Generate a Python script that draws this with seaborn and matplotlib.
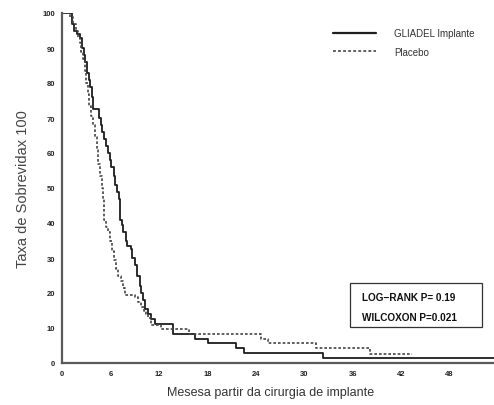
import matplotlib
matplotlib.use("Agg")
import matplotlib.pyplot as plt
import seaborn as sns
import pandas as pd
from matplotlib.patches import Rectangle
from matplotlib.lines import Line2D

# Kaplan-Meier steps (month of change, survival after it)
gliadel_months = [0, 1.2, 1.5, 1.9, 2.2, 2.5, 2.7, 2.9, 3.1, 3.3, 3.5, 3.7, 3.9,
                  4.6, 4.8, 5.0, 5.2, 5.5, 5.7, 5.9, 6.1, 6.4, 6.6, 6.8, 7.1,
                  7.2, 7.4, 7.6, 7.9, 8.1, 8.5, 8.7, 9.0, 9.3, 9.6, 9.8, 10.0,
                  10.3, 10.6, 11.0, 11.5, 13.8, 16.5, 18.1, 21.6, 22.6, 32.3, 54]
gliadel_surv = [100, 97, 95, 94, 93, 90, 88, 86, 83, 81, 79, 76, 72.5,
                70, 68, 66, 64, 62, 60, 58, 56, 53.5, 51, 49, 47,
                41, 39.5, 37.5, 35, 33.5, 32.5, 30, 28, 25, 22, 20, 18,
                15.5, 14, 12.5, 11.1, 8.3, 7.0, 5.6, 4.2, 2.9, 1.4, 1.4]

placebo_months = [0, 1.0, 1.4, 1.7, 2.0, 2.2, 2.4, 2.6, 2.8, 3.0, 3.2, 3.4,
                  3.6, 3.9, 4.1, 4.3, 4.5, 4.7, 4.9, 5.05, 5.15, 5.4, 5.7,
                  6.0, 6.2, 6.4, 6.7, 6.9, 7.3, 7.5, 7.8, 9.0, 9.4, 9.8, 10.1,
                  10.4, 10.7, 11.0, 12.2, 15.7, 24.7, 25.5, 31.5, 38.2, 43.3]
placebo_surv = [100, 99, 97, 95, 93, 91.5, 89, 87, 83.5, 80, 77, 73.5,
                70.5, 68, 64.5, 61, 57, 53.5, 50, 47, 41, 39, 37.3,
                35, 32, 29.5, 27, 25, 23.5, 21.5, 19.3, 18.8, 17.3, 16, 15,
                14, 13, 10.9, 9.7, 8.3, 7.0, 5.6, 4.2, 2.6, 2.6]

group_labels = ["GLIADEL Implante", "Placebo"]
x_ticks = list(range(0, 55, 6))
y_ticks = list(range(0, 101, 10))
stats_lines = ["LOG\u2212RANK P= 0.19", "WILCOXON P=0.021"]

sns.set_style("white")
plt.rcParams["font.family"] = ["Liberation Sans", "DejaVu Sans"]

fig = plt.figure(figsize=(4.94, 4.06), dpi=100)
ax = fig.add_axes([62 / 494, 42 / 406, 436 / 494, 350 / 406])

line_col = "#1e1e1e"
sns.lineplot(x=gliadel_months, y=gliadel_surv, drawstyle="steps-post",
             estimator=None, color=line_col, linewidth=1.3, ax=ax)
sns.lineplot(x=placebo_months, y=placebo_surv, drawstyle="steps-post",
             estimator=None, color="#444444", linewidth=1.2,
             dashes=False, ax=ax)
ax.lines[-1].set_dashes([1.6, 1.2])

ax.set_xlim(0, 54)
ax.set_ylim(0, 100)
ax.set_xticks(x_ticks)
ax.set_yticks(y_ticks)

for side in ["top", "right"]:
    ax.spines[side].set_visible(False)
for side in ["left", "bottom"]:
    ax.spines[side].set_color("#5a5a5a")
    ax.spines[side].set_linewidth(1.6)
ax.spines["left"].set_clip_on(False)

ax.tick_params(axis="y", direction="out", length=4, width=0.9, color="#5a5a5a",
               pad=1, labelsize=5.5, labelcolor="#222222")
ax.tick_params(axis="x", direction="out", length=2, width=0.8, color="#888888",
               pad=3, labelsize=5.5, labelcolor="#222222")
for lab in ax.get_xticklabels() + ax.get_yticklabels():
    lab.set_fontweight("bold")

ax.set_ylabel("Taxa de Sobrevidax 100", fontsize=10.5, color="#444444", labelpad=9)
ax.set_xlabel("Mesesa partir da cirurgia de implante", fontsize=9, color="#333333",
              labelpad=9)
ax.xaxis.set_label_coords((271 - 62) / 436, -0.065)

# legend
handles = [Line2D([], [], color=line_col, linewidth=1.6),
           Line2D([], [], color="#555555", linewidth=1.3, dashes=[1.6, 1.2])]
ax.legend(handles, group_labels, loc="upper left",
          bbox_to_anchor=((333 - 62) / 436, (364 - 29) / 350),
          frameon=False, fontsize=7, handlelength=4.4, handletextpad=1.9,
          borderpad=0, borderaxespad=0, labelspacing=0.9, labelcolor="#333333")

# statistics box
ax.add_patch(Rectangle(((350 - 62) / 436, (364 - 328) / 350),
                       (482 - 350) / 436, (328 - 284) / 350,
                       transform=ax.transAxes, fill=False,
                       edgecolor="#333333", linewidth=0.9))
for i, txt in enumerate(stats_lines):
    ax.text((362 - 62) / 436, (364 - 298 - 20 * i) / 350, txt,
            transform=ax.transAxes, fontsize=7.2, fontweight="bold",
            va="center", ha="left", color="#111111")

fig.savefig("out.png", dpi=100)
